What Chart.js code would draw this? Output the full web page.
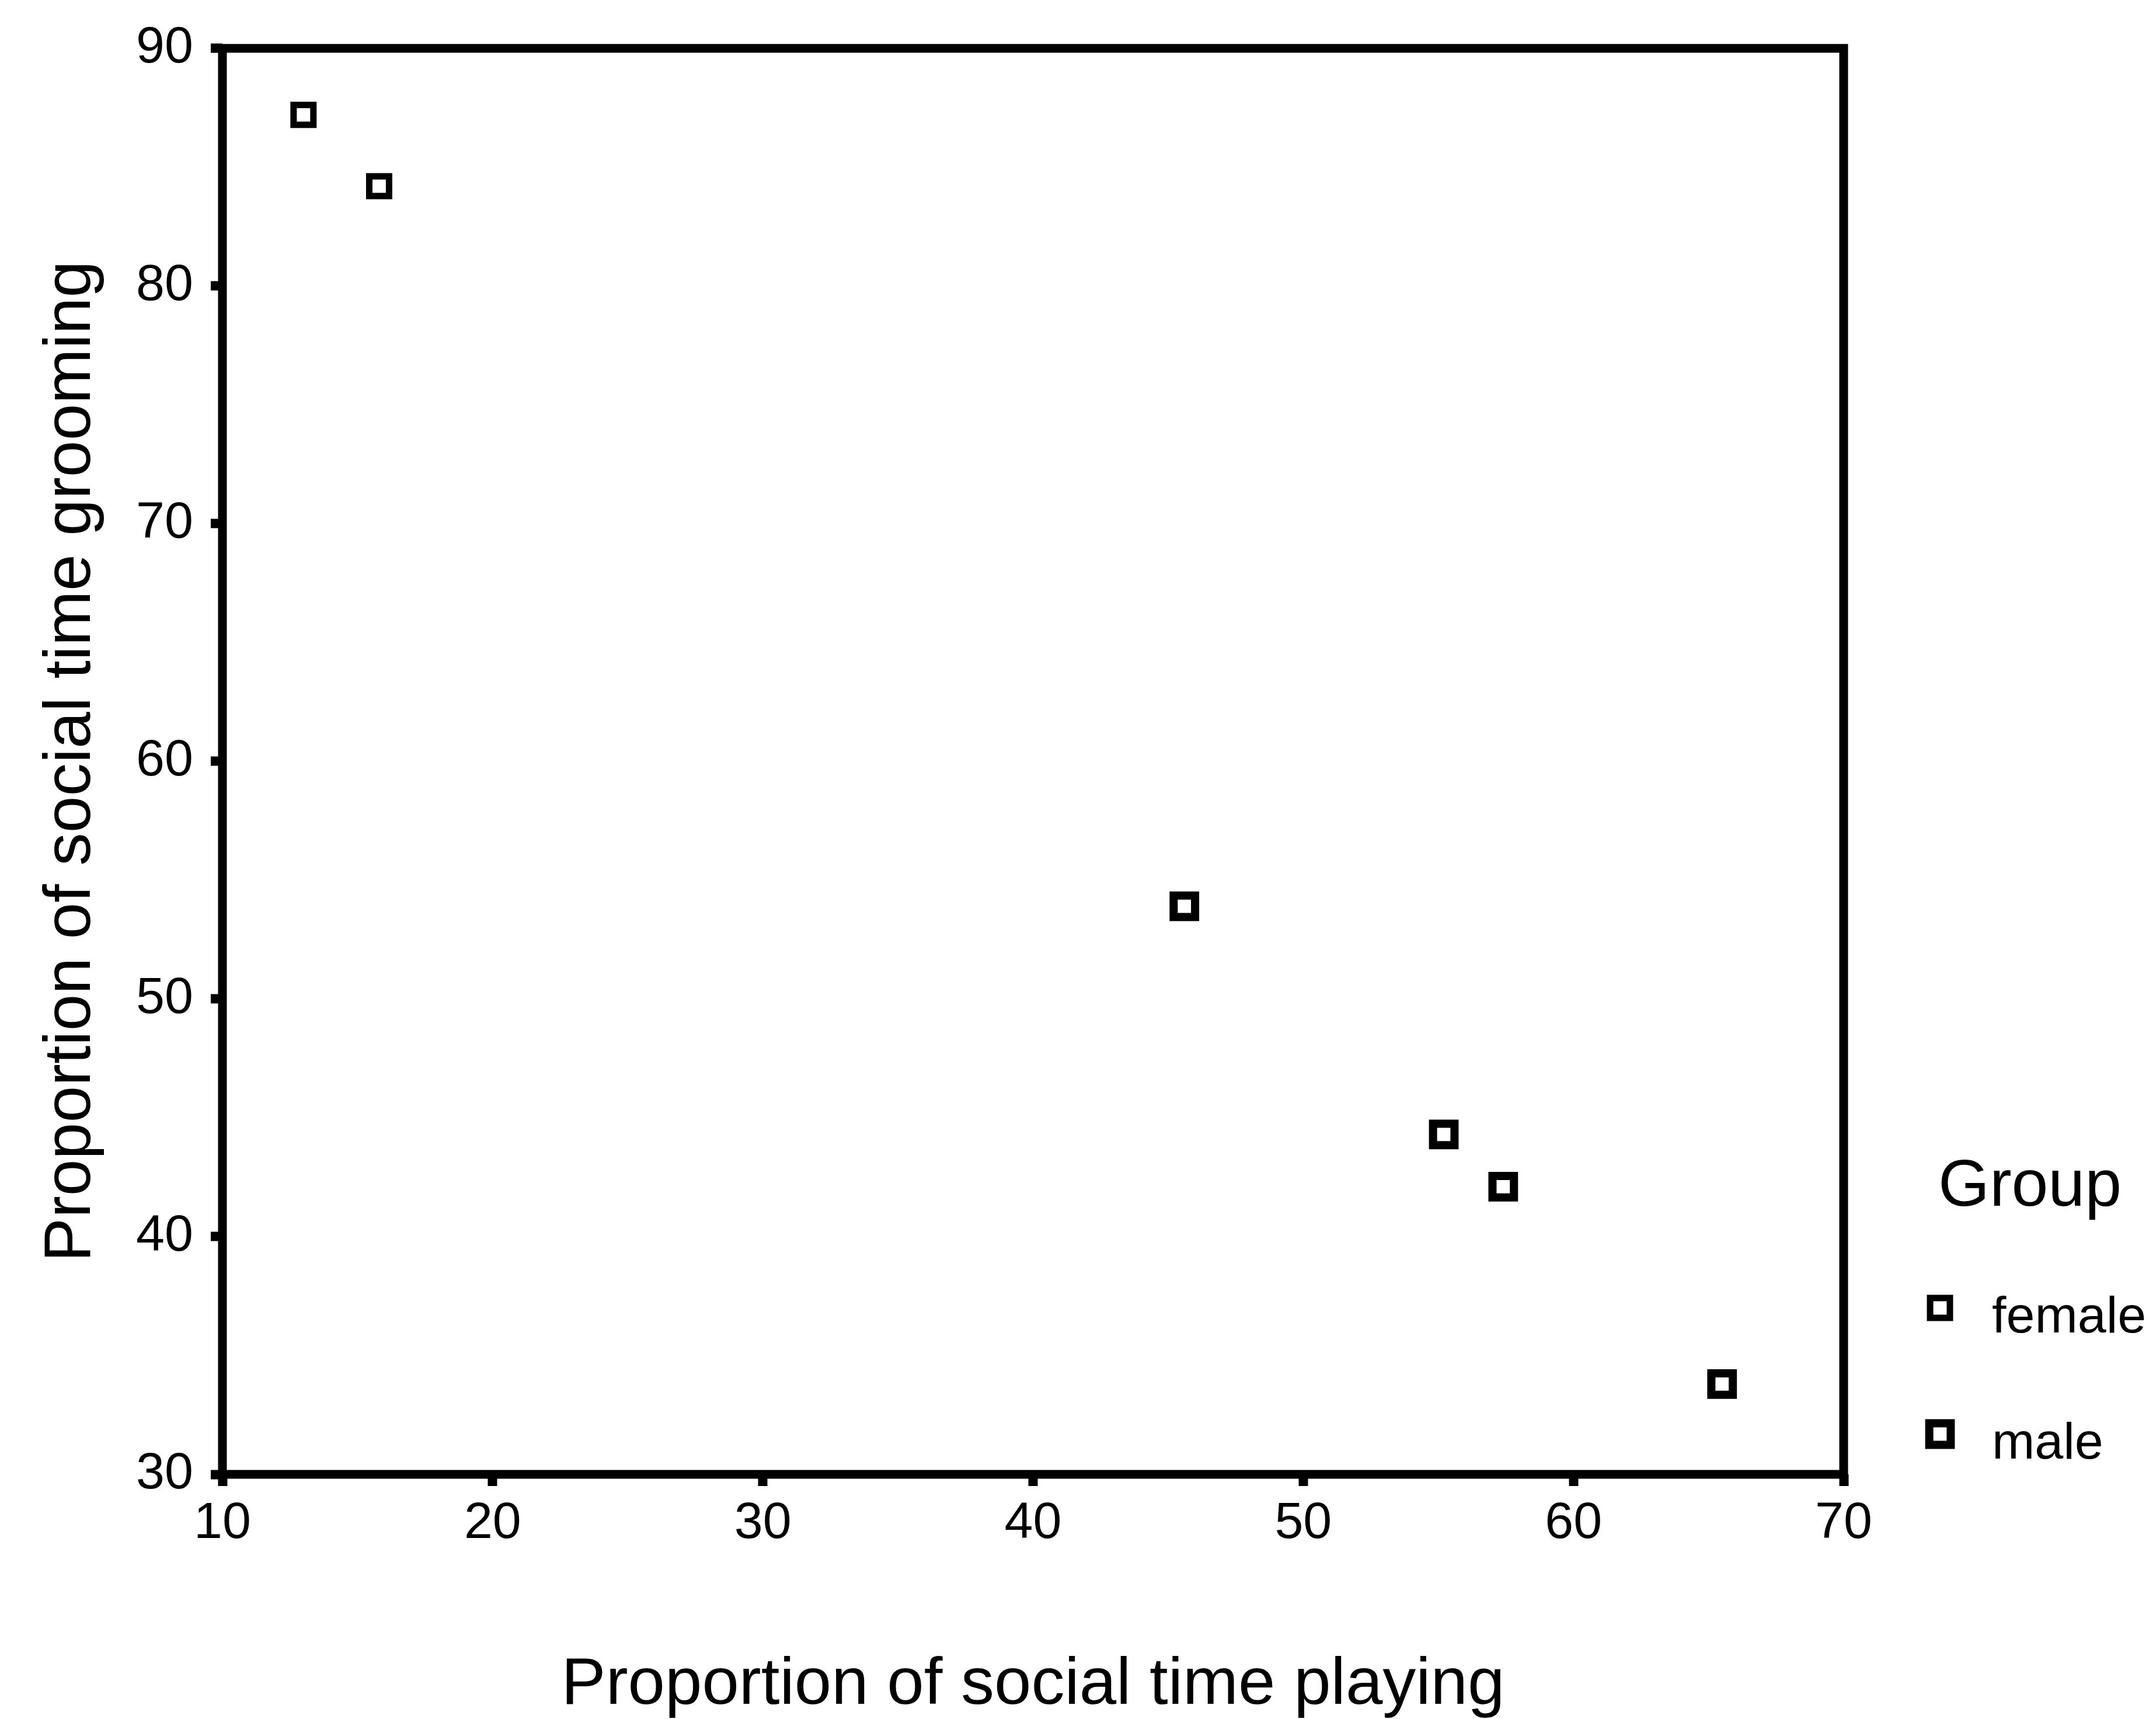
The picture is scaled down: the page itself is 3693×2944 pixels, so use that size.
<!DOCTYPE html>
<html>
<head>
<meta charset="utf-8">
<script src="https://cdn.jsdelivr.net/npm/chart.js@4.4.1/dist/chart.umd.min.js"></script>
<style>
  html, body { margin: 0; padding: 0; background: #fff; }
</style>
</head>
<body>
<canvas id="chart" width="3693" height="2944"></canvas>
<script>
// values
const groups = ["female", "male"];
const femalePlay = [13.0, 15.8];
const femaleGroom = [87.2, 84.2];
const malePlay = [45.6, 55.2, 57.4, 65.5];
const maleGroom = [53.9, 44.3, 42.1, 33.8];
const xTicks = [10, 20, 30, 40, 50, 60, 70];
const yTicks = [30, 40, 50, 60, 70, 80, 90];

const FONT = "'Liberation Sans', Arial, Helvetica, sans-serif";

const toPoints = (xs, ys) => xs.map((x, i) => ({ x: x, y: ys[i] }));

// box round the plot area
const frame = {
  id: "frame",
  afterDatasetsDraw(chart) {
    const { ctx, chartArea: a } = chart;
    ctx.save();
    ctx.strokeStyle = "#000";
    ctx.lineWidth = 15;
    ctx.strokeRect(a.left, a.top, a.right - a.left, a.bottom - a.top);
    ctx.restore();
  }
};

// "Group" legend on the right, markers drawn with the datasets' own point style
const groupLegend = {
  id: "groupLegend",
  afterDraw(chart) {
    const ctx = chart.ctx;
    const x0 = chart.chartArea.right + 162;
    ctx.save();
    ctx.fillStyle = "#000";
    ctx.textBaseline = "alphabetic";
    ctx.font = "113px " + FONT;
    ctx.fillText("Group", x0, 2065);
    ctx.font = "88px " + FONT;
    chart.data.datasets.forEach((ds, i) => {
      const cy = 2240 + i * 216;
      ctx.strokeStyle = ds.pointBorderColor;
      ctx.fillStyle = ds.pointBackgroundColor;
      ctx.lineWidth = ds.pointBorderWidth;
      Chart.helpers.drawPoint(ctx, {
        pointStyle: ds.pointStyle,
        radius: ds.pointRadius,
        borderWidth: ds.pointBorderWidth,
        rotation: 0
      }, x0 + 3, cy);
      ctx.fillStyle = "#000";
      ctx.fillText(ds.label, x0 + 92, cy + 42);
    });
    ctx.restore();
  }
};

const gridOpts = {
  display: true,
  drawOnChartArea: false,
  drawTicks: true,
  tickLength: 20,
  tickWidth: 16,
  tickColor: "#000"
};

new Chart(document.getElementById("chart"), {
  type: "scatter",
  data: {
    datasets: [
      {
        label: groups[0],
        data: toPoints(femalePlay, femaleGroom),
        pointStyle: "rect",
        pointRadius: 24,
        pointBorderWidth: 11,
        pointBorderColor: "#000",
        pointBackgroundColor: "rgba(255,255,255,0)"
      },
      {
        label: groups[1],
        data: toPoints(malePlay, maleGroom),
        pointStyle: "rect",
        pointRadius: 26,
        pointBorderWidth: 14,
        pointBorderColor: "#000",
        pointBackgroundColor: "rgba(255,255,255,0)"
      }
    ]
  },
  options: {
    responsive: false,
    devicePixelRatio: 1,
    animation: false,
    layout: { padding: { top: 64, right: 535, bottom: 0, left: 0 } },
    plugins: {
      legend: { display: false },
      tooltip: { enabled: false }
    },
    scales: {
      x: {
        type: "linear",
        min: 10,
        max: 70,
        afterBuildTicks: (s) => { s.ticks = xTicks.map(v => ({ value: v })); },
        afterFit: (s) => { s.height = 419; },
        border: { display: false },
        grid: gridOpts,
        ticks: {
          color: "#000",
          padding: 12,
          maxRotation: 0,
          font: { family: FONT, size: 88 }
        },
        title: {
          display: true,
          text: "Proportion of social time playing",
          color: "#000",
          font: { family: FONT, size: 114, lineHeight: 1 },
          padding: { top: 0, bottom: 0 }
        }
      },
      y: {
        type: "linear",
        min: 30,
        max: 90,
        afterBuildTicks: (s) => { s.ticks = yTicks.map(v => ({ value: v })); },
        afterFit: (s) => { s.width = 381; },
        border: { display: false },
        grid: gridOpts,
        ticks: {
          color: "#000",
          padding: 30,
          font: { family: FONT, size: 88 }
        },
        title: {
          display: true,
          text: "Proportion of social time grooming",
          color: "#000",
          font: { family: FONT, size: 113, lineHeight: 1 },
          padding: { top: 66, bottom: 0 }
        }
      }
    }
  },
  plugins: [frame, groupLegend]
});
</script>
</body>
</html>
